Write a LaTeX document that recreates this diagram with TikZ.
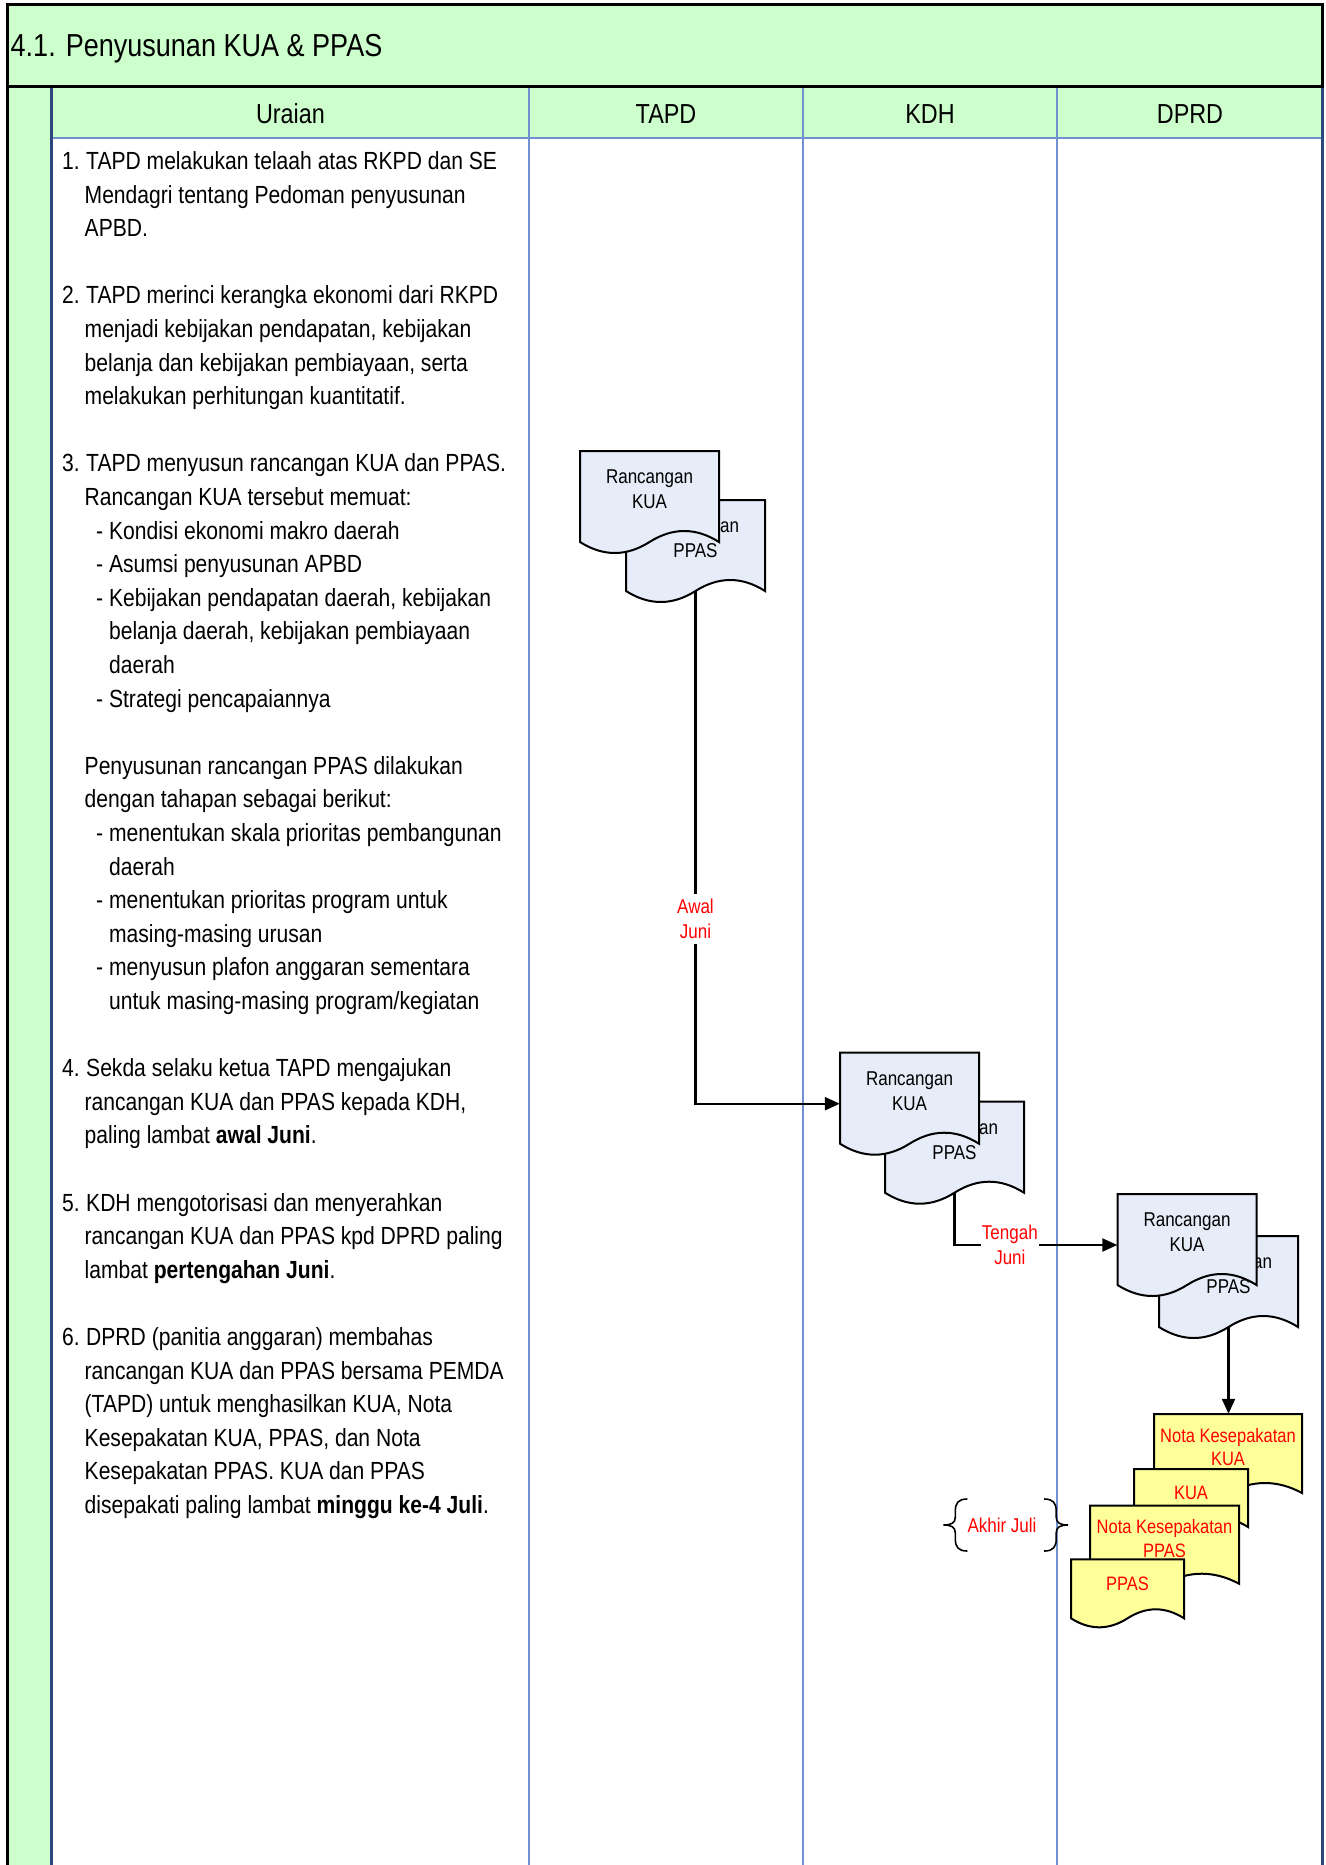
\documentclass[tikz,border=0pt]{standalone}
\usepackage{fontspec}
\setmainfont{Liberation Sans}[FakeStretch=0.85]
\usetikzlibrary{arrows.meta}

\definecolor{bandgreen}{RGB}{204,255,204}
\definecolor{laneblue}{RGB}{112,146,206}
\definecolor{framenavy}{RGB}{45,70,125}
\definecolor{docblue}{RGB}{230,236,248}
\definecolor{noteyellow}{RGB}{255,255,153}
\definecolor{datered}{RGB}{255,0,0}

\tikzset{
  titletext/.style={anchor=base west, inner sep=0pt, font=\fontsize{31.8}{36}\selectfont},
  headtext/.style={anchor=base, inner sep=0pt, font=\fontsize{27.5}{32}\selectfont},
  bodytext/.style={anchor=base west, inner sep=0pt, font=\fontsize{24.8}{30}\selectfont},
  lane/.style={draw=laneblue, line width=2pt},
  conn/.style={line width=2.2pt, -{Triangle[length=15pt,width=13pt]}},
  docline/.style={draw=black, line width=2pt},
  bluedoc fill/.style={fill=docblue},
  bluedoc text/.style={align=center, inner sep=0pt, font=\fontsize{20}{25}\selectfont},
  notedoc fill/.style={fill=noteyellow},
  notedoc text/.style={align=center, inner sep=0pt, text=datered, font=\fontsize{19.4}{23.3}\selectfont},
  datelabel/.style={align=center, text=datered, fill=white, inner xsep=1pt, inner ysep=5.5pt, font=\fontsize{20}{25}\selectfont},
  bracepen/.style={draw=black, line width=1.6pt},
}

% document symbol: #1 name, #2 left, #3 top, #4 width, #5 edge height,
% #6 wave amplitude, #7 look (bluedoc / notedoc), #8 text
\newcommand\docshape[8]{%
  \filldraw[docline, #7 fill] (#2,#3) -- ({#2+#4},#3) -- ({#2+#4},{#3+#5})
    .. controls ({#2+#4*5/6},{#3+#5-#6*4/3}) and ({#2+#4*2/3},{#3+#5-#6*4/3}) .. ({#2+#4/2},{#3+#5})
    .. controls ({#2+#4/3},{#3+#5+#6*4/3}) and ({#2+#4/6},{#3+#5+#6*4/3}) .. (#2,{#3+#5}) -- cycle;
  \node[inner sep=0pt, minimum width={#4*1pt}, minimum height={(#5+#6)*1pt}] (#1) at ({#2+#4/2},{#3+(#5+#6)/2}) {};
  \coordinate (#1-b) at ({#2+#4/2},{#3+#5});
  \node[#7 text] (#1-t) at ({#2+#4/2},{#3+0.42*#5}) {#8};
}

% one line of the description column: #1 name, #2 x, #3 line index, #4 text
\newcommand\bodyline[4]{\node[bodytext] (#1) at (#2,{169.5+33.6*#3}) {#4};}
% item number with hanging indent
\newcommand\itemno[1]{\makebox[24pt][l]{#1}}

\begin{document}
\begin{tikzpicture}[x=1pt, y=-1pt]
\useasboundingbox (0,0) rectangle (1325,1865);
\clip (0,0) rectangle (1325,1865);

% frame, title band and lane headers
\fill[bandgreen] (7.5,87) rectangle (51.5,1865);
\fill[bandgreen] (51.5,87) rectangle (1322.5,138);
\foreach \lx in {529,803,1057} \draw[lane] (\lx,87) -- (\lx,1865);
\draw[lane] (51.5,138) -- (1322.5,138);
\draw[framenavy, line width=2.5pt] (51.5,87) -- (51.5,1865);
\draw[framenavy, line width=3pt] (1322.5,87) -- (1322.5,1865);
\filldraw[fill=bandgreen, draw=black, line width=3pt] (7.5,4.5) rectangle (1322.5,87);
\draw[black, line width=3pt] (7.5,4.5) -- (7.5,1865);

\node[titletext] (title) at (10.5,56.7) {4.1. Penyusunan KUA \& PPAS};
\node[headtext] (hU) at (290.5,123.3) {Uraian};
\node[headtext] (hT) at (666,123.3) {TAPD};
\node[headtext] (hK) at (930,123.3) {KDH};
\node[headtext] (hD) at (1190,123.3) {DPRD};

% description column
\def\xn{62}\def\xc{84.5}\def\xs{96}\def\xsc{108.9}
\bodyline{l0}{\xn}{0}{\itemno{1.}TAPD melakukan telaah atas RKPD dan SE}
\bodyline{l1}{\xc}{1}{Mendagri tentang Pedoman penyusunan}
\bodyline{l2}{\xc}{2}{APBD.}
\bodyline{l4}{\xn}{4}{\itemno{2.}TAPD merinci kerangka ekonomi dari RKPD}
\bodyline{l5}{\xc}{5}{menjadi kebijakan pendapatan, kebijakan}
\bodyline{l6}{\xc}{6}{belanja dan kebijakan pembiayaan, serta}
\bodyline{l7}{\xc}{7}{melakukan perhitungan kuantitatif.}
\bodyline{l9}{\xn}{9}{\itemno{3.}TAPD menyusun rancangan KUA dan PPAS.}
\bodyline{l10}{\xc}{10}{Rancangan KUA tersebut memuat:}
\bodyline{l11}{\xs}{11}{- Kondisi ekonomi makro daerah}
\bodyline{l12}{\xs}{12}{- Asumsi penyusunan APBD}
\bodyline{l13}{\xs}{13}{- Kebijakan pendapatan daerah, kebijakan}
\bodyline{l14}{\xsc}{14}{belanja daerah, kebijakan pembiayaan}
\bodyline{l15}{\xsc}{15}{daerah}
\bodyline{l16}{\xs}{16}{- Strategi pencapaiannya}
\bodyline{l18}{\xc}{18}{Penyusunan rancangan PPAS dilakukan}
\bodyline{l19}{\xc}{19}{dengan tahapan sebagai berikut:}
\bodyline{l20}{\xs}{20}{- menentukan skala prioritas pembangunan}
\bodyline{l21}{\xsc}{21}{daerah}
\bodyline{l22}{\xs}{22}{- menentukan prioritas program untuk}
\bodyline{l23}{\xsc}{23}{masing-masing urusan}
\bodyline{l24}{\xs}{24}{- menyusun plafon anggaran sementara}
\bodyline{l25}{\xsc}{25}{untuk masing-masing program/kegiatan}
\bodyline{l27}{\xn}{27}{\itemno{4.}Sekda selaku ketua TAPD mengajukan}
\bodyline{l28}{\xc}{28}{rancangan KUA dan PPAS kepada KDH,}
\bodyline{l29}{\xc}{29}{paling lambat \textbf{awal Juni}.}
\bodyline{l31}{\xn}{31}{\itemno{5.}KDH mengotorisasi dan menyerahkan}
\bodyline{l32}{\xc}{32}{rancangan KUA dan PPAS kpd DPRD paling}
\bodyline{l33}{\xc}{33}{lambat \textbf{pertengahan Juni}.}
\bodyline{l35}{\xn}{35}{\itemno{6.}DPRD (panitia anggaran) membahas}
\bodyline{l36}{\xc}{36}{rancangan KUA dan PPAS bersama PEMDA}
\bodyline{l37}{\xc}{37}{(TAPD) untuk menghasilkan KUA, Nota}
\bodyline{l38}{\xc}{38}{Kesepakatan KUA, PPAS, dan Nota}
\bodyline{l39}{\xc}{39}{Kesepakatan PPAS. KUA dan PPAS}
\bodyline{l40}{\xc}{40}{disepakati paling lambat \textbf{minggu ke-4 Juli}.}

% TAPD documents
\docshape{tp}{626}{500}{139}{91}{11}{bluedoc}{Rancangan\\PPAS}
\docshape{tk}{580}{451}{139}{91}{11}{bluedoc}{Rancangan\\KUA}
% KDH documents
\docshape{kp}{885}{1101.7}{139}{91}{11}{bluedoc}{Rancangan\\PPAS}
\docshape{kk}{840}{1052.7}{139}{91}{11}{bluedoc}{Rancangan\\KUA}
% DPRD documents
\docshape{dp}{1159}{1236}{139}{91}{11}{bluedoc}{Rancangan\\PPAS}
\docshape{dk}{1117.5}{1194}{139}{91}{11}{bluedoc}{Rancangan\\KUA}
% agreed documents
\docshape{y1}{1154}{1414}{148}{79}{10}{notedoc}{Nota Kesepakatan\\KUA}
\docshape{y2}{1134}{1469}{114}{58}{9}{notedoc}{KUA}
\docshape{y3}{1090}{1505.7}{149}{78}{10}{notedoc}{Nota Kesepakatan\\PPAS}
\docshape{y4}{1071}{1559.3}{113}{59}{9}{notedoc}{PPAS}

% flow
\draw[conn] (tp-b) |- node[datelabel, pos=0.32] (awal) {Awal\\Juni} (kk.west);
\draw[conn] (kp-b) |- node[datelabel, pos=0.67] (tengah) {Tengah\\Juni} (dk.west);
\draw[conn] (dp-b) -- (dp-b |- y1.north);

% deadline with braces
\node[inner sep=0pt, text=datered, font=\fontsize{20}{25}\selectfont] (aj) at (1002,1525) {Akhir Juli};
\begin{scope}[shift={(aj.west)}]
  \draw[bracepen] (0,-26) .. controls (-9,-26) and (-12,-22) .. (-12,-14) -- (-12,-8)
    .. controls (-12,-2) and (-16,0) .. (-24,0) .. controls (-16,0) and (-12,2) .. (-12,8)
    -- (-12,14) .. controls (-12,22) and (-9,26) .. (0,26);
\end{scope}
\begin{scope}[shift={(aj.east)}]
  \draw[bracepen] (7.5,-26) .. controls (16.5,-26) and (19.5,-22) .. (19.5,-14) -- (19.5,-8)
    .. controls (19.5,-2) and (23.5,0) .. (31.5,0) .. controls (23.5,0) and (19.5,2) .. (19.5,8)
    -- (19.5,14) .. controls (19.5,22) and (16.5,26) .. (7.5,26);
\end{scope}
\end{tikzpicture}
\end{document}
